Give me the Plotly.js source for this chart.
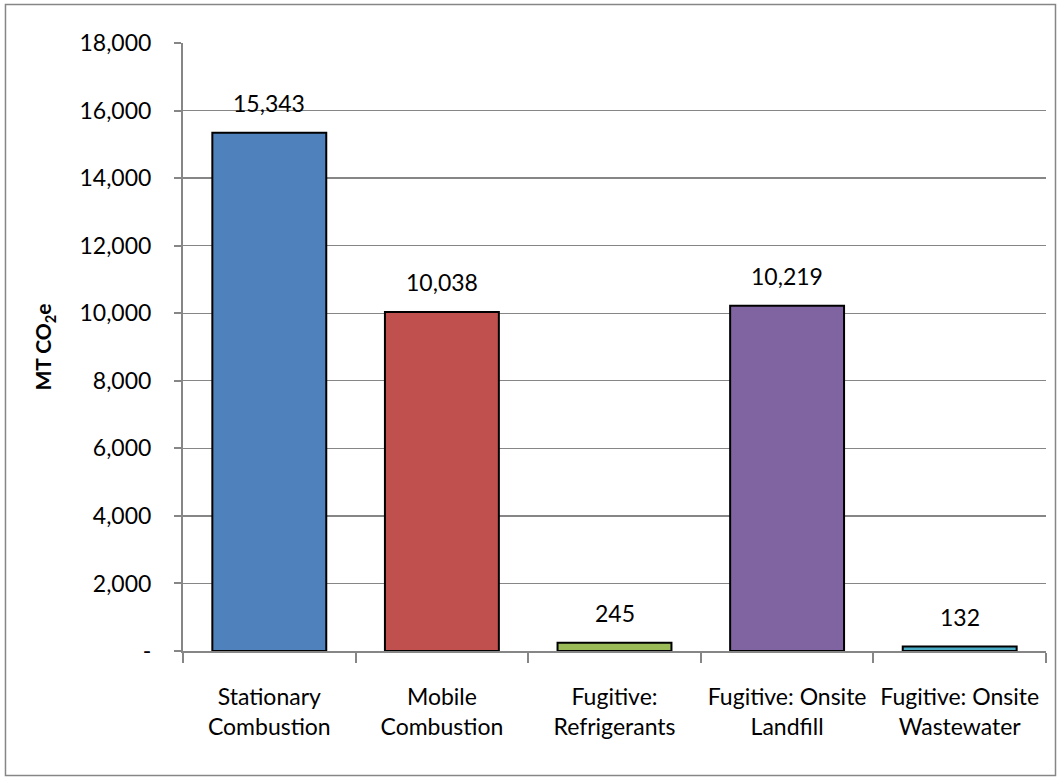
<!DOCTYPE html>
<html>
<head>
<meta charset="utf-8">
<script src="https://cdn.plot.ly/plotly-3.0.1.min.js"></script>
<style>
html,body{margin:0;padding:0;background:#fff;}
#chart{width:1064px;height:784px;}
</style>
</head>
<body>
<div id="chart"></div>
<script>
const categories = ["Stationary<br>Combustion", "Mobile<br>Combustion", "Fugitive:<br>Refrigerants", "Fugitive: Onsite<br>Landfill", "Fugitive: Onsite<br>Wastewater"];
const values = [15343, 10038, 245, 10219, 132];
const valueLabels = ["15,343", "10,038", "245", "10,219", "132"];
const barColors = ["#4F81BD", "#C0504D", "#9BBB59", "#8064A2", "#4BACC6"];
const yTickVals = [0, 2000, 4000, 6000, 8000, 10000, 12000, 14000, 16000, 18000];
const yTickText = ["-", "2,000", "4,000", "6,000", "8,000", "10,000", "12,000", "14,000", "16,000", "18,000"];

const FONT = "Lato, 'Open Sans', sans-serif";
const FS = 23;

const trace = {
  type: "bar",
  x: categories,
  y: values,
  marker: {color: barColors, line: {color: "#000000", width: 2}},
  hoverinfo: "none"
};

const annotations = categories.map((c, i) => ({
  x: c, y: values[i], xref: "x", yref: "y",
  text: valueLabels[i], showarrow: false,
  yanchor: "middle", yshift: 30,
  font: {family: FONT, size: FS, color: "#000"}
}));

const layout = {
  width: 1064, height: 784,
  margin: {l: 183, r: 18, t: 43, b: 133},
  paper_bgcolor: "#fff", plot_bgcolor: "#fff",
  showlegend: false,
  bargap: 0.34,
  font: {family: FONT, size: FS, color: "#000"},
  xaxis: {
    type: "category",
    showline: true, linecolor: "#868686", linewidth: 2,
    ticks: "outside", tickson: "boundaries", ticklen: 10, tickcolor: "#868686", tickwidth: 2,
    ticklabelstandoff: 24,
    showgrid: false, zeroline: false,
    tickfont: {family: FONT, size: FS, color: "#000"}
  },
  yaxis: {
    range: [0, 18000],
    tickvals: yTickVals, ticktext: yTickText,
    showline: true, linecolor: "#868686", linewidth: 2,
    ticks: "outside", ticklen: 7, tickcolor: "#868686", tickwidth: 2,
    ticklabelstandoff: 18,
    showgrid: true, gridcolor: "#868686", gridwidth: 1.3,
    zeroline: false,
    tickfont: {family: FONT, size: FS, color: "#000"},
    title: {text: "<b>MT CO<sub>2</sub>e</b>", font: {family: FONT, size: 21, color: "#000"}, standoff: 22}
  },
  annotations: annotations,
  shapes: [{
    type: "rect", xref: "paper", yref: "paper",
    x0: -0.2057, x1: 1.0110, y0: -0.2048, y1: 1.0633,
    line: {color: "#868686", width: 1.5}, fillcolor: "rgba(0,0,0,0)", layer: "below"
  }]
};

Plotly.newPlot("chart", [trace], layout, {displayModeBar: false, staticPlot: true});
</script>
</body>
</html>
